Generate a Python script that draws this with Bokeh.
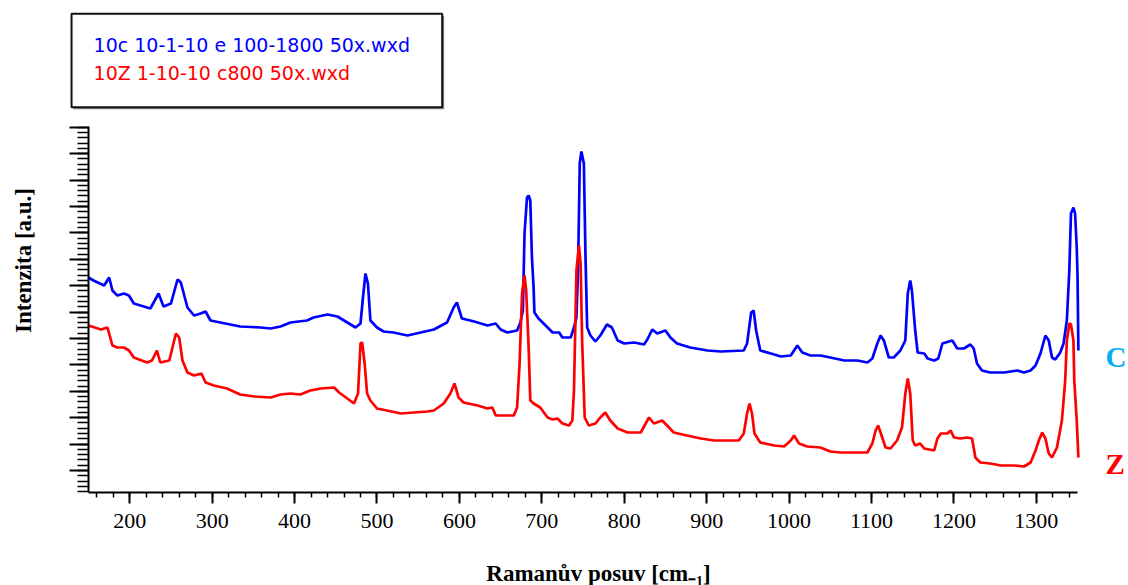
import math
from bokeh.plotting import figure
from bokeh.models import FixedTicker, Range1d, LinearAxis
from bokeh.core.properties import value
from bokeh.embed import file_html
from bokeh.resources import INLINE

# ---- data (Raman shift [cm-1], intensity [a.u.]) ----
blue_x = [150, 156, 169, 175, 179, 185, 193, 199, 205, 221, 225, 235, 241, 250, 258, 262, 270, 278, 286, 292,
          298, 310, 334, 359, 371, 383, 395, 415, 423, 440, 452, 464, 474, 480, 483, 486, 489, 492, 500, 508,
          520, 537, 553, 569, 585, 593, 597, 603, 618, 634, 644, 650, 658, 670, 674, 677, 679, 682, 684, 686,
          688, 690, 691, 696, 707, 713, 721, 725, 735, 739, 742, 744, 746, 748, 751, 753, 755, 759, 765, 771,
          779, 785, 792, 800, 812, 824, 828, 834, 840, 850, 856, 864, 880, 901, 917, 945, 949, 954, 957, 960,
          965, 978, 990, 1002, 1010, 1016, 1026, 1038, 1050, 1067, 1083, 1095, 1101, 1107, 1111, 1115, 1121, 1127, 1135, 1141,
          1144, 1147, 1149, 1153, 1156, 1164, 1168, 1176, 1181, 1186, 1190, 1198, 1204, 1212, 1220, 1224, 1228, 1234, 1244, 1261,
          1277, 1285, 1293, 1299, 1305, 1311, 1315, 1319, 1323, 1329, 1333, 1337, 1340, 1342, 1345, 1347, 1349, 1350, 1351]
blue_y = [215, 212, 207, 215, 202, 197, 199, 197, 189, 185, 184, 199, 186, 189, 213, 210, 185, 177, 179, 181,
          172, 170, 166, 165, 164, 166, 170, 172, 175, 178, 176, 170, 165, 169, 195, 219, 209, 172, 165, 161,
          160, 157, 160, 163, 170, 185, 190, 174, 171, 167, 169, 163, 160, 162, 170, 182, 259, 295, 297, 292,
          235, 205, 180, 174, 165, 160, 160, 155, 155, 165, 175, 225, 329, 341, 329, 235, 165, 157, 151, 157,
          168, 165, 152, 149, 150, 148, 153, 163, 159, 162, 155, 149, 145, 142, 141, 142, 149, 180, 182, 162,
          142, 139, 136, 137, 147, 140, 137, 137, 135, 132, 132, 130, 134, 149, 157, 152, 135, 135, 142, 152,
          199, 212, 202, 162, 140, 139, 134, 132, 134, 149, 150, 152, 144, 144, 148, 144, 129, 122, 120, 120,
          122, 120, 122, 127, 139, 157, 152, 135, 133, 140, 149, 172, 222, 279, 285, 279, 245, 215, 142]

red_x = [150, 165, 173, 179, 185, 193, 199, 205, 221, 227, 233, 237, 248, 256, 260, 264, 270, 278, 287, 292,
         302, 318, 334, 351, 371, 383, 395, 407, 419, 432, 448, 454, 464, 472, 477, 480, 482, 485, 488, 492,
         500, 512, 529, 545, 561, 569, 581, 589, 594, 599, 605, 622, 634, 640, 644, 666, 670, 673, 676, 679,
         681, 684, 686, 690, 698, 707, 713, 719, 725, 733, 737, 739, 742, 745, 747, 749, 752, 757, 765, 771,
         777, 783, 792, 804, 820, 826, 830, 836, 846, 852, 860, 876, 893, 909, 939, 945, 949, 952, 955, 958,
         965, 982, 994, 1002, 1006, 1012, 1022, 1038, 1050, 1062, 1095, 1101, 1105, 1108, 1111, 1117, 1123, 1131, 1137, 1141,
         1144, 1147, 1150, 1153, 1159, 1164, 1176, 1180, 1184, 1192, 1196, 1200, 1208, 1216, 1222, 1226, 1232, 1244, 1257, 1273,
         1285, 1293, 1299, 1303, 1307, 1311, 1315, 1319, 1325, 1331, 1335, 1337, 1340, 1342, 1345, 1346, 1349, 1351]
red_y = [167, 163, 165, 147, 145, 145, 142, 135, 130, 132, 142, 130, 132, 159, 155, 132, 120, 117, 119, 110,
         107, 104, 98, 96, 95, 98, 99, 98, 102, 104, 105, 100, 94, 89, 99, 149, 150, 129, 99, 92,
         84, 82, 79, 80, 81, 82, 89, 99, 109, 95, 90, 87, 84, 85, 77, 77, 85, 129, 199, 217,
         202, 145, 92, 89, 85, 75, 73, 74, 69, 67, 72, 102, 222, 247, 229, 149, 75, 67, 69, 75,
         80, 72, 64, 60, 60, 69, 75, 69, 72, 67, 60, 57, 54, 52, 52, 59, 79, 89, 79, 59,
         50, 47, 46, 52, 57, 49, 46, 45, 41, 40, 40, 49, 62, 67, 60, 45, 44, 52, 65, 99,
         114, 99, 52, 47, 49, 44, 42, 54, 59, 59, 62, 55, 54, 55, 54, 35, 30, 29, 27, 27,
         26, 30, 42, 52, 60, 54, 39, 35, 45, 72, 112, 152, 169, 168, 152, 112, 72, 35]

series_names = ["10c 10-1-10 e 100-1800 50x.wxd", "10Z 1-10-10 c800 50x.wxd"]
series_colors = ["#0000FF", "#FF0000"]
sample_tags = ["C", "Z"]
tag_colors = ["#00B0F0", "#FF0000"]
x_major_ticks = [200, 300, 400, 500, 600, 700, 800, 900, 1000, 1100, 1200, 1300]
x_title = "Ramanův posuv [cm₋₁]"
y_title = "Intenzita [a.u.]"

# ---- figure: the frame covers the whole canvas; axes are pinned with fixed_location ----
p = figure(width=1128, height=585, output_backend="svg", toolbar_location=None,
           x_range=Range1d(43.2, 1411.8), y_range=Range1d(-93, 492),
           x_axis_location=None, y_axis_location=None,
           min_border=0, background_fill_color="white", border_fill_color="white")
p.outline_line_color = None
p.grid.visible = False

# legend box with shadow
p.quad(left=[131.8], right=[581.5], top=[476.7], bottom=[383.3],
       fill_color="#8a8a8a", line_color=None)
p.quad(left=[129.4], right=[579.1], top=[478.7], bottom=[385.3],
       fill_color="white", line_color="#111111", line_width=2)
p.text(x=[156.1, 156.1], y=[447.3, 420.0], text=series_names, text_color=series_colors,
       text_font=value("DejaVu Sans"), text_font_size=value("19px"),
       text_baseline="middle", text_align="left")

# spectra
p.line(blue_x, blue_y, line_color=series_colors[0], line_width=2.7)
p.line(red_x, red_y, line_color=series_colors[1], line_width=2.7)

# sample tags on the right
p.text(x=[1383.9, 1383.9], y=[136, 29], text=sample_tags, text_color=tag_colors,
       text_font=value("Liberation Serif"), text_font_style=value("bold"),
       text_font_size=value("29px"), text_baseline="middle", text_align="left")

# axis titles
p.text(x=[768.8], y=[-81], text=[x_title], text_color="black",
       text_font=value("Liberation Serif"), text_font_style=value("bold"),
       text_font_size=value("23px"), text_baseline="middle", text_align="center")
p.text(x=[71.1], y=[232], text=[y_title], text_color="black", angle=math.pi / 2,
       text_font=value("Liberation Serif"), text_font_style=value("bold"),
       text_font_size=value("23px"), text_baseline="middle", text_align="center")

# x axis
xa = LinearAxis(fixed_location=0, bounds=(150, 1350),
                ticker=FixedTicker(ticks=x_major_ticks, minor_ticks=list(range(160, 1351, 20))))
xa.major_label_text_font = "Liberation Serif"
xa.major_label_text_font_size = "22px"
xa.major_label_text_color = "black"
xa.major_label_standoff = 10
xa.axis_line_width = 2
xa.axis_line_color = "black"
xa.major_tick_in = 0
xa.major_tick_out = 11
xa.major_tick_line_width = 2
xa.minor_tick_in = 0
xa.minor_tick_out = 5
xa.minor_tick_line_width = 1.5
p.add_layout(xa, "below")

# y axis (no tick labels, as in the original)
y_major = [22 + 26.4 * k for k in range(14)]
y_minor = [22 + 5.28 * k for k in range(-4, 66)]
ya = LinearAxis(fixed_location=150, bounds=(0, 366),
                ticker=FixedTicker(ticks=y_major, minor_ticks=y_minor))
ya.major_label_text_font_size = "0px"
ya.major_label_text_color = None
ya.axis_line_width = 2
ya.axis_line_color = "black"
ya.major_tick_in = 0
ya.major_tick_out = 19
ya.major_tick_line_width = 2
ya.minor_tick_in = 0
ya.minor_tick_out = 11
ya.minor_tick_line_width = 1.5
p.add_layout(ya, "left")

open("out.html", "w").write(file_html(p, INLINE))
